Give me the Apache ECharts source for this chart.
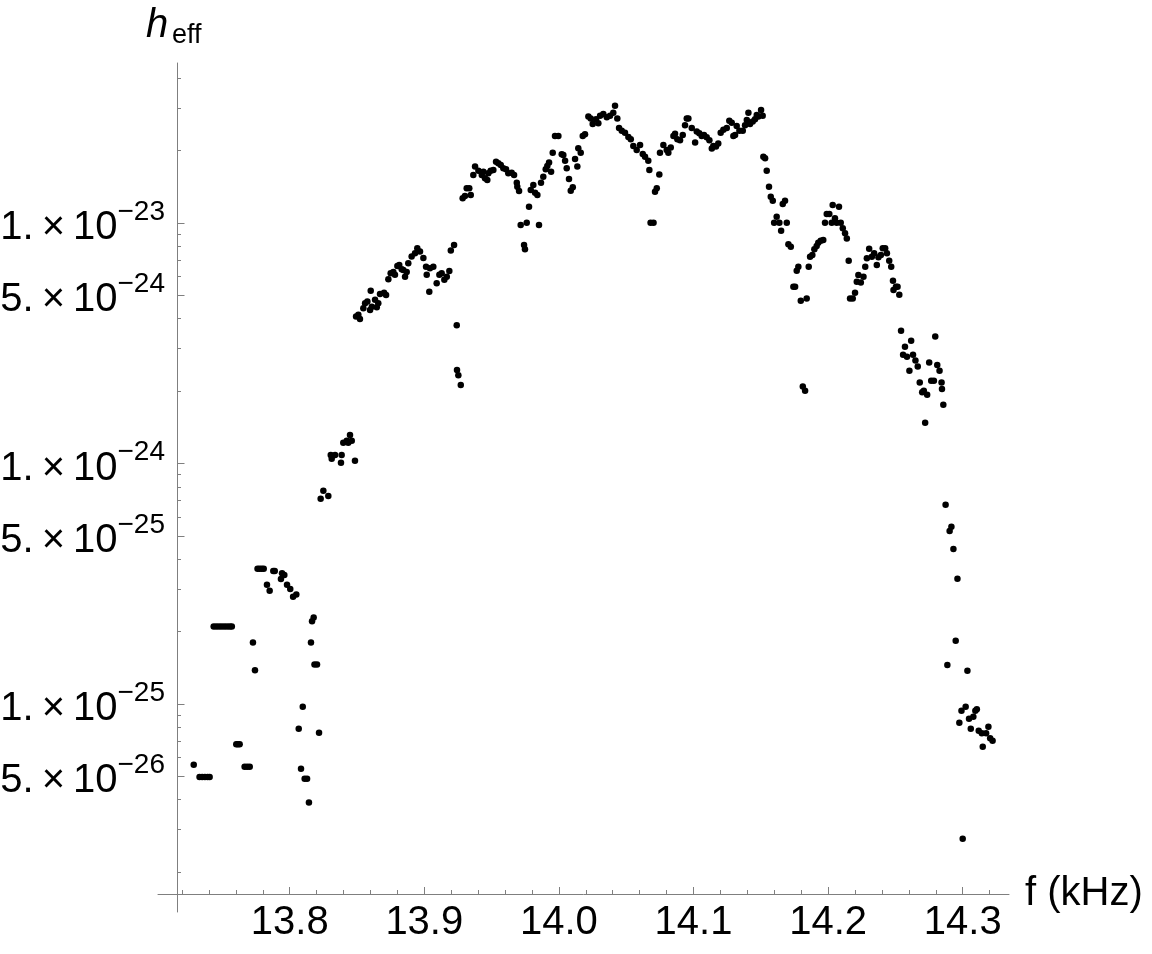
<!DOCTYPE html>
<html>
<head>
<meta charset="utf-8">
<script src="https://cdn.jsdelivr.net/npm/echarts@6/dist/echarts.min.js"></script>
<style>
  html, body { margin: 0; background: #fff; }
  #chart { width: 1152px; height: 954px; }
</style>
</head>
<body>
<div id="chart"></div>
<script>
// low band, f < 13.823 kHz (flat runs are several points at the same level)
const lowF = [13.7287, 13.733, 13.735, 13.737, 13.739, 13.7405,
  13.7435, 13.7455, 13.7475, 13.7495, 13.7515, 13.7535, 13.7555, 13.757,
  13.7603, 13.7615, 13.7628, 13.7665, 13.7684, 13.7703, 13.7727, 13.7742,
  13.7761, 13.7776, 13.7792, 13.7807, 13.7831, 13.7851, 13.7878, 13.7889,
  13.7935, 13.7943, 13.796, 13.798, 13.8004, 13.8025, 13.8049, 13.8067,
  13.8084, 13.8097, 13.8111, 13.8129, 13.8143, 13.8158, 13.8166, 13.8178,
  13.8184, 13.8203, 13.8218]
const lowH = [5.59e-26, 4.97e-26, 4.97e-26, 4.97e-26, 4.97e-26, 4.97e-26,
  2.10e-25, 2.10e-25, 2.10e-25, 2.10e-25, 2.10e-25, 2.10e-25, 2.10e-25, 2.10e-25,
  6.80e-26, 6.80e-26, 6.80e-26, 5.49e-26, 5.49e-26, 5.49e-26, 1.80e-25, 1.38e-25,
  3.65e-25, 3.65e-25, 3.65e-25, 3.65e-25, 3.13e-25, 2.96e-25, 3.57e-25, 3.57e-25,
  3.31e-25, 3.50e-25, 3.44e-25, 3.13e-25, 3.01e-25, 2.79e-25, 2.85e-25, 7.89e-26,
  5.38e-26, 9.74e-26, 4.89e-26, 4.89e-26, 3.89e-26, 1.80e-25, 2.21e-25, 2.29e-25,
  1.46e-25, 1.46e-25, 7.60e-26]

// rising edge
const riseF = [13.823, 13.825, 13.8287, 13.8305, 13.8312, 13.8337, 13.8381, 13.8386,
  13.8398, 13.8424, 13.8435, 13.8448, 13.8461, 13.8485, 13.8493, 13.851, 13.8522,
  13.8547, 13.856, 13.8577, 13.8597, 13.8602, 13.861, 13.8634, 13.8647, 13.8658,
  13.8671, 13.8701, 13.8716, 13.8733, 13.875, 13.877, 13.8782, 13.88, 13.8814,
  13.8832, 13.8844, 13.8857, 13.8869, 13.8881, 13.8906, 13.8931, 13.8948, 13.8968,
  13.8993, 13.9013, 13.9018, 13.9037, 13.9042, 13.9067, 13.9092, 13.9112, 13.9129,
  13.9149, 13.9167, 13.9186, 13.9197, 13.9221, 13.9241, 13.9243, 13.9253, 13.9271]
const riseH = [7.14e-25, 7.71e-25, 7.33e-25, 1.085e-24, 1.047e-24, 1.085e-24, 1.008e-24, 1.085e-24,
  1.22e-24, 1.244e-24, 1.22e-24, 1.314e-24, 1.244e-24, 1.027e-24, 4.08e-24, 4.15e-24, 3.99e-24,
  4.42e-24, 4.64e-24, 4.71e-24, 4.35e-24, 5.23e-24, 4.48e-24, 4.79e-24, 4.46e-24, 4.64e-24,
  5.07e-24, 5.13e-24, 5.02e-24, 5.84e-24, 6.18e-24, 6.26e-24, 6.09e-24, 6.63e-24, 6.69e-24,
  6.42e-24, 6.38e-24, 5.97e-24, 6.26e-24, 6.80e-24, 7.25e-24, 7.49e-24, 7.85e-24, 7.61e-24,
  7.15e-24, 6.58e-24, 6.09e-24, 5.18e-24, 6.48e-24, 6.58e-24, 5.62e-24, 6.09e-24, 6.18e-24,
  5.80e-24, 5.97e-24, 6.32e-24, 7.68e-24, 8.09e-24, 3.76e-24, 2.45e-24, 2.33e-24, 2.12e-24]

// plateau
const topF = [13.9285, 13.9302, 13.9315, 13.9334, 13.9345, 13.9364, 13.9377, 13.9402,
  13.9427, 13.9439, 13.9451, 13.9468, 13.9476, 13.9493, 13.9513, 13.9533, 13.955,
  13.9568, 13.9587, 13.9607, 13.9624, 13.9649, 13.9667, 13.9687, 13.9691, 13.9704,
  13.9716, 13.9741, 13.9748, 13.9761, 13.9778, 13.9791, 13.981, 13.9823, 13.984,
  13.9852, 13.9867, 13.9884, 13.9902, 13.9914, 13.9927, 13.9942, 13.9954, 13.9971,
  13.9996, 14.0021, 14.0033, 14.0046, 14.0058, 14.0075, 14.0088, 14.0103, 14.012,
  14.0137, 14.0144, 14.0162, 14.0177, 14.0194, 14.0219, 14.0236, 14.0251, 14.0276,
  14.0293, 14.0306, 14.033, 14.0356, 14.038, 14.0404, 14.0417, 14.0434, 14.0447,
  14.0467, 14.0491, 14.0516, 14.0534, 14.0553, 14.0578, 14.0603, 14.0623, 14.064,
  14.0664, 14.0672, 14.0681, 14.0703, 14.0714, 14.0727, 14.0746, 14.0751, 14.0776,
  14.0801, 14.0813, 14.0831, 14.0851, 14.0863, 14.088, 14.09, 14.092, 14.0937,
  14.095, 14.0962, 14.0987, 14.1012, 14.1024, 14.1043, 14.1061, 14.1078, 14.1098,
  14.1118, 14.1136, 14.1147, 14.1167, 14.1184, 14.1202, 14.1222, 14.1247, 14.1266,
  14.1284, 14.1296, 14.1309, 14.1321, 14.1341, 14.1366, 14.1383, 14.1396, 14.1408,
  14.142, 14.144, 14.1457, 14.147, 14.1482, 14.1502, 14.1514]
const topH = [1.267e-23, 1.295e-23, 1.394e-23, 1.394e-23, 1.307e-23, 1.583e-23, 1.715e-23, 1.649e-23,
  1.583e-23, 1.634e-23, 1.534e-23, 1.509e-23, 1.609e-23, 1.649e-23, 1.661e-23, 1.798e-23, 1.771e-23,
  1.743e-23, 1.688e-23, 1.673e-23, 1.609e-23, 1.619e-23, 1.583e-23, 1.471e-23, 1.416e-23, 1.359e-23,
  9.81e-24, 8.10e-24, 7.77e-24, 1.003e-23, 1.169e-23, 1.371e-23, 1.439e-23, 1.336e-23, 1.307e-23,
  9.81e-24, 1.471e-23, 1.557e-23, 1.673e-23, 1.727e-23, 1.782e-23, 1.634e-23, 1.96e-23, 2.30e-23,
  2.30e-23, 1.93e-23, 1.918e-23, 1.815e-23, 1.688e-23, 1.524e-23, 1.362e-23, 1.407e-23, 1.845e-23,
  1.715e-23, 2.044e-23, 1.96e-23, 2.30e-23, 2.34e-23, 2.77e-23, 2.72e-23, 2.58e-23, 2.70e-23,
  2.60e-23, 2.79e-23, 2.84e-23, 2.75e-23, 2.79e-23, 2.87e-23, 3.07e-23, 2.72e-23, 2.48e-23,
  2.42e-23, 2.37e-23, 2.28e-23, 2.23e-23, 2.09e-23, 2.01e-23, 2.11e-23, 1.936e-23, 1.885e-23,
  1.815e-23, 1.661e-23, 1.003e-23, 1.003e-23, 1.349e-23, 1.394e-23, 1.591e-23, 1.96e-23, 2.11e-23,
  2.01e-23, 1.96e-23, 2.06e-23, 2.30e-23, 2.35e-23, 2.23e-23, 2.21e-23, 2.32e-23, 2.55e-23,
  2.72e-23, 2.72e-23, 2.48e-23, 2.16e-23, 2.40e-23, 2.36e-23, 2.30e-23, 2.32e-23, 2.27e-23,
  2.21e-23, 2.04e-23, 2.09e-23, 2.08e-23, 2.14e-23, 2.37e-23, 2.44e-23, 2.48e-23, 2.66e-23,
  2.61e-23, 2.30e-23, 2.32e-23, 2.53e-23, 2.42e-23, 2.42e-23, 2.55e-23, 2.68e-23, 2.87e-23,
  2.58e-23, 2.64e-23, 2.70e-23, 2.81e-23, 2.77e-23, 2.95e-23, 2.79e-23]

// falling edge
const fallF = [14.1519, 14.1532, 14.1544, 14.1561, 14.1574, 14.1589, 14.1599, 14.1618,
  14.1638, 14.1651, 14.1663, 14.168, 14.1693, 14.1705, 14.1723, 14.1742, 14.1755,
  14.1767, 14.1779, 14.1797, 14.1812, 14.1829, 14.1841, 14.1856, 14.1866, 14.1883,
  14.1898, 14.1915, 14.1927, 14.1945, 14.1964, 14.1977, 14.199, 14.2009, 14.2027,
  14.2034, 14.2051, 14.2064, 14.2081, 14.2094, 14.2109, 14.2126, 14.2139, 14.2153,
  14.2163, 14.2183, 14.22, 14.2213, 14.2225, 14.2243, 14.2263, 14.2276, 14.2288,
  14.2305, 14.2325, 14.2342, 14.2362, 14.2374, 14.2392, 14.2406, 14.2424, 14.2437,
  14.2454, 14.2469, 14.2482, 14.2486, 14.2504, 14.2516, 14.2529, 14.2542, 14.2557,
  14.2571, 14.2586, 14.2604, 14.2617, 14.2631, 14.2649, 14.2666, 14.2681, 14.2699,
  14.2711, 14.2721, 14.2736, 14.2751, 14.2766, 14.2786, 14.2796, 14.2811, 14.2828,
  14.2843, 14.2846, 14.2856]
const fallH = [1.885e-23, 1.858e-23, 1.649e-23, 1.416e-23, 1.286e-23, 1.238e-23, 1.003e-23, 1.062e-23,
  1.003e-23, 9.29e-24, 1.199e-23, 1.238e-23, 1.003e-23, 8.15e-24, 7.97e-24, 5.43e-24, 5.43e-24,
  6.33e-24, 6.58e-24, 4.75e-24, 2.088e-24, 2.007e-24, 4.85e-24, 6.58e-24, 7.24e-24, 7.36e-24,
  7.77e-24, 8.02e-24, 8.28e-24, 8.44e-24, 8.50e-24, 1.003e-23, 1.09e-23, 1.09e-23, 1.003e-23,
  1.188e-23, 1.046e-23, 1.003e-23, 1.169e-23, 1.003e-23, 9.50e-24, 9.06e-24, 8.61e-24, 6.97e-24,
  4.85e-24, 4.85e-24, 5.13e-24, 5.70e-24, 6.08e-24, 5.65e-24, 5.98e-24, 6.58e-24, 7.13e-24,
  7.82e-24, 7.24e-24, 7.48e-24, 6.69e-24, 7.20e-24, 7.36e-24, 7.85e-24, 7.85e-24, 7.48e-24,
  6.97e-24, 6.58e-24, 5.75e-24, 5.26e-24, 5.43e-24, 5.43e-24, 5.03e-24, 3.56e-24, 2.83e-24,
  3.06e-24, 2.78e-24, 2.43e-24, 3.24e-24, 2.83e-24, 2.68e-24, 2.53e-24, 2.17e-24, 1.977e-24,
  2.007e-24, 1.478e-24, 1.932e-24, 2.63e-24, 2.21e-24, 2.21e-24, 3.37e-24, 2.57e-24, 2.43e-24,
  2.17e-24, 2.04e-24, 1.755e-24]

// tail, f > 14.287 kHz
const tailF = [14.2873, 14.2903, 14.2916, 14.2931, 14.2961, 14.2948, 14.2886, 14.3035,
  14.3022, 14.2991, 14.3105, 14.3094, 14.2975, 14.3047, 14.3079, 14.306, 14.3119,
  14.3142, 14.3191, 14.3174, 14.3204, 14.3222, 14.3149, 14.3]
const tailH = [6.74e-25, 5.24e-25, 5.46e-25, 4.41e-25, 3.32e-25, 1.832e-25, 1.452e-25, 1.376e-25,
  9.74e-26, 9.38e-26, 9.50e-26, 9.38e-26, 8.36e-26, 8.69e-26, 8.86e-26, 7.89e-26, 7.74e-26,
  7.55e-26, 8.04e-26, 7.55e-26, 7.20e-26, 7.04e-26, 6.64e-26, 2.75e-26]

// axis ranges and ticks
const fRange = [13.70215, 14.3344]
const hRange = [1.365e-26, 4.625e-23]
const xMajorTicks = [13.8, 13.9, 14.0, 14.1, 14.2, 14.3]
const xMinorTicks = [13.72, 13.74, 13.76, 13.78, 13.82, 13.84, 13.86, 13.88, 13.92, 13.94,
  13.96, 13.98, 14.02, 14.04, 14.06, 14.08, 14.12, 14.14, 14.16, 14.18, 14.22, 14.24,
  14.26, 14.28, 14.32]
const yLabelTicks = [5e-26, 1e-25, 5e-25, 1e-24, 5e-24, 1e-23]
const yMinorTicks = [2e-26, 3e-26, 4e-26, 6e-26, 7e-26, 8e-26, 9e-26,
  2e-25, 3e-25, 4e-25, 6e-25, 7e-25, 8e-25, 9e-25,
  2e-24, 3e-24, 4e-24, 6e-24, 7e-24, 8e-24, 9e-24,
  2e-23, 3e-23, 4e-23]

const font = '"Liberation Sans", Arial, Helvetica, sans-serif'
const axisGray = '#7f7f7f'

const toPairs = (fs, hs) => fs.map((f, i) => [f, hs[i]])
const points = [
    ...toPairs(lowF, lowH),
    ...toPairs(riseF, riseH),
    ...toPairs(topF, topH),
    ...toPairs(fallF, fallH),
    ...toPairs(tailF, tailH),
]

const log10 = (v) => Math.log10(v)
const logRange = hRange.map(log10)

const xBase = {
    type: 'value',
    min: fRange[0],
    max: fRange[1],
    position: 'bottom',
    offset: -18,
    splitLine: { show: false },
}

const yBase = {
    type: 'value',
    min: logRange[0],
    max: logRange[1],
    position: 'left',
    offset: -19,
    splitLine: { show: false },
}

// "5. × 10^-24" style, the exponent as a raised token (thin spaces round the ×)
const sciLabel = (v) => {
    const e = Math.floor(v + 1e-6)
    const m = Math.round(Math.pow(10, v - e))
    return '{m|' + m + '.\u2009\u00d7\u200910}{e|\u2212' + Math.abs(e) + '}'
}

const chart = echarts.init(document.getElementById('chart'))

chart.setOption({
    animation: false,
    backgroundColor: '#fff',
    // fixed plot box; labels are allowed to sit near the canvas edge
    grid: { left: 158, right: 143, top: 63, bottom: 42, outerBoundsMode: 'none', containLabel: false },
    xAxis: [
        {
            ...xBase,
            name: 'f (kHz)',
            nameLocation: 'end',
            nameGap: 16,
            nameTextStyle: { fontFamily: font, fontSize: 40, color: '#000', verticalAlign: 'middle' },
            axisLine: { show: true, onZero: false, lineStyle: { color: axisGray, width: 1 } },
            axisTick: { show: true, inside: true, length: 7, customValues: xMajorTicks, lineStyle: { color: axisGray } },
            axisLabel: {
                customValues: xMajorTicks,
                formatter: (v) => v.toFixed(1),
                fontFamily: font,
                fontSize: 40,
                color: '#000',
                margin: 9,
            },
        },
        {
            ...xBase,
            axisLine: { show: false, onZero: false },
            axisTick: { show: true, inside: true, length: 4, customValues: xMinorTicks, lineStyle: { color: axisGray } },
            axisLabel: { show: false },
        },
    ],
    yAxis: [
        // data axis: log scale, drawn invisibly, the overlays carry the ticks
        { type: 'log', logBase: 10, min: hRange[0], max: hRange[1], show: false },
        {
            ...yBase,
            axisLine: { show: true, onZero: false, lineStyle: { color: axisGray, width: 1 } },
            axisTick: { show: true, inside: true, length: 7.5, customValues: yLabelTicks.map(log10), lineStyle: { color: axisGray } },
            axisLabel: {
                customValues: yLabelTicks.map(log10),
                formatter: sciLabel,
                margin: 12,
                padding: [10, 0, 0, 0],
                rich: {
                    m: { fontFamily: font, fontSize: 40, color: '#000', lineHeight: 60 },
                    e: { fontFamily: font, fontSize: 28, color: '#000', lineHeight: 28, verticalAlign: 'top' },
                },
            },
        },
        {
            ...yBase,
            axisLine: { show: false, onZero: false },
            axisTick: { show: true, inside: true, length: 4, customValues: yMinorTicks.map(log10), lineStyle: { color: axisGray } },
            axisLabel: { show: false },
        },
    ],
    graphic: [
        { type: 'text', left: 146, top: 6, style: { text: 'h', font: 'italic 40px ' + font, fill: '#000' } },
        { type: 'text', left: 172, top: 22, style: { text: 'eff', font: '27px ' + font, fill: '#000' } },
    ],
    series: [
        {
            type: 'scatter',
            xAxisIndex: 0,
            yAxisIndex: 0,
            symbol: 'circle',
            symbolSize: 6.5,
            itemStyle: { color: '#000', opacity: 1 },
            silent: true,
            data: points,
        },
    ],
})
</script>
</body>
</html>
